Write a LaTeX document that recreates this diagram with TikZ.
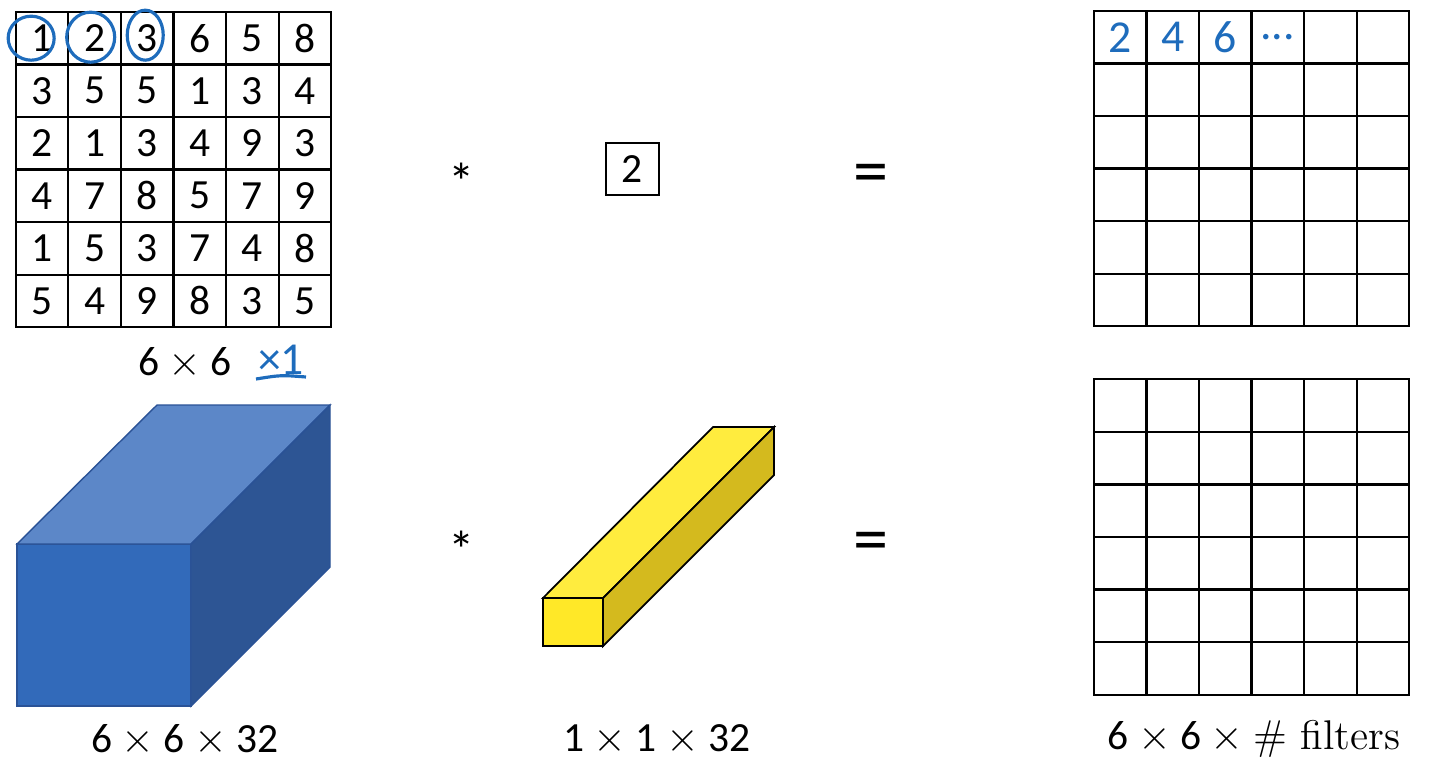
\documentclass[tikz,border=0pt]{standalone}
\usepackage{fontspec}
\newfontfamily\calibri{Carlito}
\usepackage{tikz}
\usetikzlibrary{positioning,matrix}

\definecolor{penblue}{RGB}{30,108,188}
\definecolor{cubefront}{RGB}{50,106,186}
\definecolor{cubetop}{RGB}{92,135,200}
\definecolor{cubeside}{RGB}{45,85,148}
\definecolor{cubeedge}{RGB}{42,82,150}
\definecolor{barfront}{RGB}{255,232,40}
\definecolor{bartop}{RGB}{255,236,62}
\definecolor{barside}{RGB}{212,186,30}

\begin{document}
\begin{tikzpicture}[
    x=0.01cm, y=-0.01cm,
    txt/.style={
        font=\calibri\fontsize{11.8}{14}\selectfont,
        inner sep=0pt
    },
    cell/.style={
        draw,
        line width=0.6pt,
        minimum size=0.525cm,
        inner sep=0pt,
        anchor=center,
        font=\calibri\fontsize{11.8}{14}\selectfont
    },
    grid6/.style={
        matrix of nodes,
        nodes={cell},
        nodes in empty cells,
        column sep=-0.6pt,
        row sep=-0.6pt
    },
    pentext/.style={text=penblue, font=\calibri\fontsize{13}{15}\selectfont},
    pen/.style={penblue, line width=0.9pt},
    op/.style={txt, font=\calibri\fontsize{15}{18}\selectfont},
    eqsign/.style={txt, font=\calibri\fontsize{20}{24}\selectfont}
]
\useasboundingbox (0,0) rectangle (1448,769);

\matrix[grid6] (img) at (173.5,169.5) {
    1 & 2 & 3 & 6 & 5 & 8 \\
    3 & 5 & 5 & 1 & 3 & 4 \\
    2 & 1 & 3 & 4 & 9 & 3 \\
    4 & 7 & 8 & 5 & 7 & 9 \\
    1 & 5 & 3 & 7 & 4 & 8 \\
    5 & 4 & 9 & 8 & 3 & 5 \\
};

\draw[pen] (img-1-1.center) ++(-11,0) ellipse [x radius=23, y radius=22];
\draw[pen] (img-1-2.center) ++(-4,-1) ellipse [x radius=24, y radius=25];
\draw[pen] (img-1-3.center) ++(-2,-3) ellipse [x radius=18, y radius=25];

\node[txt] (imgsize) at (185,363) {6 $\times$ 6};
\node[txt, pentext] (chan) at (281,360) {×1};
\draw[pen] (256,379) .. controls (281,375) .. (306,377);

\node[op] (star1) at (462,182) {*};
\node[cell] (filt) at (632.5,169) {2};
\node[eqsign] (eq1) at (871,179) {=};

\matrix[grid6] (out1) at (1251.5,168.5) {
    |[pentext]| 2 & |[pentext]| 4 & |[pentext]| 6 & |[pentext]| ... & & \\
    & & & & & \\
    & & & & & \\
    & & & & & \\
    & & & & & \\
    & & & & & \\
};

% volume 6x6x32
\filldraw[fill=cubefront, draw=cubeedge, line width=0.4pt]
    (17,544) -- (191,544) -- (191,706) -- (17,706) -- cycle;
\filldraw[fill=cubetop, draw=cubeedge, line width=0.4pt]
    (17,544) -- (157,405) -- (330,405) -- (191,544) -- cycle;
\filldraw[fill=cubeside, draw=cubeedge, line width=0.4pt]
    (191,544) -- (330,405) -- (330,567) -- (191,706) -- cycle;

% filter 1x1x32
\filldraw[fill=barfront, draw=black, line width=0.5pt]
    (543,598) -- (603,598) -- (603,646) -- (543,646) -- cycle;
\filldraw[fill=bartop, draw=black, line width=0.5pt]
    (543,598) -- (713,427) -- (774,427) -- (603,598) -- cycle;
\filldraw[fill=barside, draw=black, line width=0.5pt]
    (603,598) -- (774,427) -- (774,475) -- (603,646) -- cycle;

\node[op] (star2) at (462,550) {*};
\node[eqsign] (eq2) at (871,547) {=};

\matrix[grid6] (out2) at (1251.5,537) {
    & & & & & \\
    & & & & & \\
    & & & & & \\
    & & & & & \\
    & & & & & \\
    & & & & & \\
};

\node[txt] (volsize) at (185,740) {6 $\times$ 6 $\times$ 32};
\node[txt] (filtsize) at (657,740) {1 $\times$ 1 $\times$ 32};
\node[txt] (outsize) at (1254,739) {6 $\times$ 6 $\times$ {\rmfamily\# filters}};

\end{tikzpicture}
\end{document}
